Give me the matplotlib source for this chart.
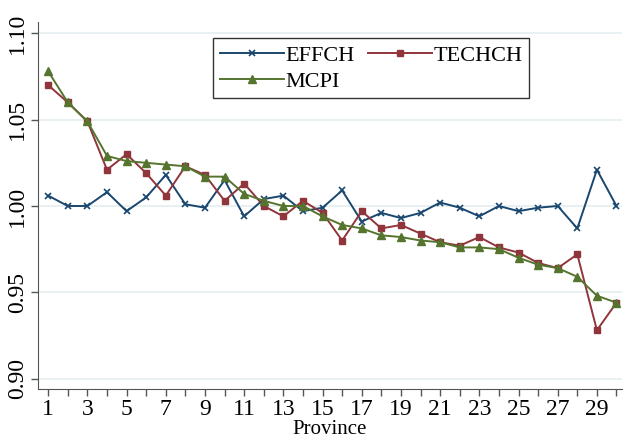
import matplotlib
matplotlib.use("Agg")
import matplotlib.pyplot as plt

plt.rcParams['font.family'] = ['Liberation Serif', 'DejaVu Serif']

# 省份编号
province = list(range(1, 31))

effch = [1.006, 1.000, 1.000, 1.008, 0.997, 1.005, 1.018, 1.001, 0.999, 1.015,
         0.994, 1.004, 1.006, 0.997, 0.999, 1.009, 0.991, 0.996, 0.993, 0.996,
         1.002, 0.999, 0.994, 1.000, 0.997, 0.999, 1.000, 0.987, 1.021, 1.000]
techch = [1.070, 1.060, 1.049, 1.021, 1.030, 1.019, 1.006, 1.023, 1.018, 1.003,
          1.013, 1.000, 0.994, 1.003, 0.996, 0.980, 0.997, 0.987, 0.989, 0.984,
          0.979, 0.977, 0.982, 0.976, 0.973, 0.967, 0.964, 0.972, 0.928, 0.944]
mcpi = [1.078, 1.060, 1.049, 1.029, 1.026, 1.025, 1.024, 1.023, 1.017, 1.017,
        1.007, 1.003, 1.000, 1.000, 0.994, 0.989, 0.987, 0.983, 0.982, 0.980,
        0.979, 0.976, 0.976, 0.975, 0.970, 0.966, 0.964, 0.959, 0.948, 0.944]

yticks = [0.90, 0.95, 1.00, 1.05, 1.10]
xticklabels_at = list(range(1, 31, 2))

fig = plt.figure(figsize=(6.27, 4.43), dpi=100)
ax = fig.add_axes([0.060, 0.122, 0.932, 0.828])

ax.plot(province, effch, color='#1a476f', marker='x', markersize=4, mew=1.2, lw=1.4, label='EFFCH')
ax.plot(province, techch, color='#90353b', marker='s', markersize=5, lw=1.4, label='TECHCH')
ax.plot(province, mcpi, color='#55752f', marker='^', markersize=5.5, lw=1.4, label='MCPI')

ax.set_xlim(0.46, 30.28)
ax.set_ylim(0.894, 1.1065)
ax.set_yticks(yticks)
ax.set_yticklabels(['%.2f' % v for v in yticks], rotation=90, va='center', fontsize=17)
ax.set_xticks(province)
ax.set_xticklabels([str(p) if p in xticklabels_at else '' for p in province], fontsize=17)
ax.tick_params(direction='out', length=5, width=1, color='#555555', pad=2)
ax.set_xlabel('Province', fontsize=15, labelpad=0)

ax.grid(axis='y', color='#e4eef0', lw=1.2)
ax.set_axisbelow(True)
for s in ['top', 'right']:
    ax.spines[s].set_visible(False)
for s in ['left', 'bottom']:
    ax.spines[s].set_color('#555555')

# 图例顺序：按行 EFFCH, TECHCH / MCPI
h, l = ax.get_legend_handles_labels()
order = [0, 2, 1]
leg = ax.legend([h[i] for i in order], [l[i] for i in order], ncol=2, loc='upper left',
                bbox_to_anchor=(0.30, 0.956), borderaxespad=0, fontsize=16,
                frameon=True, fancybox=False, edgecolor='black', handlelength=2.9,
                handletextpad=0.05, columnspacing=0.6, labelspacing=0.25, borderpad=0.3)
leg.get_frame().set_linewidth(1.0)

fig.savefig('out.png', dpi=100)
